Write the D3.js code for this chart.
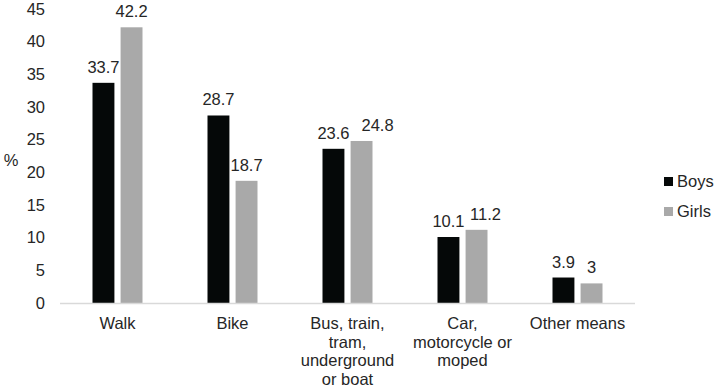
<!DOCTYPE html>
<html>
<head>
<meta charset="utf-8">
<script src="https://cdn.jsdelivr.net/npm/d3@7"></script>
<style>
  body { margin: 0; background: #fff; }
  text { font-family: "Liberation Sans", Arial, sans-serif; fill: #262626; }
</style>
</head>
<body>
<div id="chart-area"></div>
<script>
// data
var categories = [
    ["Walk"],
    ["Bike"],
    ["Bus, train,", "tram,", "underground", "or boat"],
    ["Car,", "motorcycle or", "moped"],
    ["Other means"]
];
var seriesNames = ["Boys", "Girls"];
var boys = [33.7, 28.7, 23.6, 10.1, 3.9];
var girls = [42.2, 18.7, 24.8, 11.2, 3];
var yTicks = [0, 5, 10, 15, 20, 25, 30, 35, 40, 45];

var colors = { Boys: "#050808", Girls: "#a9a9a9" };

var W = 716, H = 390;
var plotLeft = 60, plotRight = 635, plotTop = 9, plotBottom = 303;
var fs = "16.5px";
// label nudges (px) where the two value labels would collide
var girlsLabelNudge = [0, 0, 16, 9, 0];

var svg = d3.select("#chart-area").append("svg")
    .attr("width", W)
    .attr("height", H);

var x = d3.scaleBand()
    .domain(d3.range(categories.length))
    .range([plotLeft, plotRight]);

var xInner = d3.scaleBand()
    .domain(seriesNames)
    .range([x.bandwidth() / 2 - 25, x.bandwidth() / 2 + 25])
    .paddingInner(0.22);

var y = d3.scaleLinear()
    .domain([0, 45])
    .range([plotBottom, plotTop]);

// y tick labels only
svg.append("g")
    .selectAll("text")
    .data(yTicks)
    .enter().append("text")
        .attr("x", 45)
        .attr("y", (d) => y(d))
        .attr("dy", "0.35em")
        .attr("text-anchor", "end")
        .style("font-size", fs)
        .text((d) => d);

svg.append("text")
    .attr("x", 11)
    .attr("y", 160)
    .attr("dy", "0.35em")
    .attr("text-anchor", "middle")
    .style("font-size", fs)
    .text("%");

var rows = [];
categories.forEach((c, i) => {
    rows.push({ i: i, s: "Boys", v: boys[i], nudge: 0 });
    rows.push({ i: i, s: "Girls", v: girls[i], nudge: girlsLabelNudge[i] });
});

var groups = svg.append("g");

groups.selectAll("rect")
    .data(rows)
    .enter().append("rect")
        .attr("x", (d) => x(d.i) + xInner(d.s))
        .attr("y", (d) => y(d.v))
        .attr("width", xInner.bandwidth())
        .attr("height", (d) => y(0) - y(d.v))
        .attr("fill", (d) => colors[d.s]);

groups.selectAll("text.val")
    .data(rows)
    .enter().append("text")
        .attr("class", "val")
        .attr("x", (d) => x(d.i) + xInner(d.s) + xInner.bandwidth() / 2 + d.nudge)
        .attr("y", (d) => y(d.v) - 10)
        .attr("text-anchor", "middle")
        .style("font-size", fs)
        .text((d) => d.v);

// baseline
svg.append("line")
    .attr("x1", plotLeft)
    .attr("x2", plotRight)
    .attr("y1", y(0) + 0.5)
    .attr("y2", y(0) + 0.5)
    .attr("stroke", "#d9d9d9")
    .attr("stroke-width", 1.5);

// category labels
var catLabels = svg.append("g")
    .selectAll("text")
    .data(categories)
    .enter().append("text")
        .attr("x", (d, i) => x(i) + x.bandwidth() / 2)
        .attr("y", 329)
        .attr("text-anchor", "middle")
        .style("font-size", fs);

catLabels.selectAll("tspan")
    .data((d) => d)
    .enter().append("tspan")
        .attr("x", function () { return d3.select(this.parentNode).attr("x"); })
        .attr("dy", (d, j) => j === 0 ? 0 : 18.5)
        .text((d) => d);

// legend
var legend = svg.append("g")
    .selectAll("g")
    .data(seriesNames)
    .enter().append("g")
        .attr("transform", (d, i) => "translate(664," + (177 + i * 30) + ")");

legend.append("rect")
    .attr("width", 9)
    .attr("height", 9)
    .attr("fill", (d) => colors[d]);

legend.append("text")
    .attr("x", 13)
    .attr("y", 9.5)
    .style("font-size", fs)
    .text((d) => d);
</script>
</body>
</html>
